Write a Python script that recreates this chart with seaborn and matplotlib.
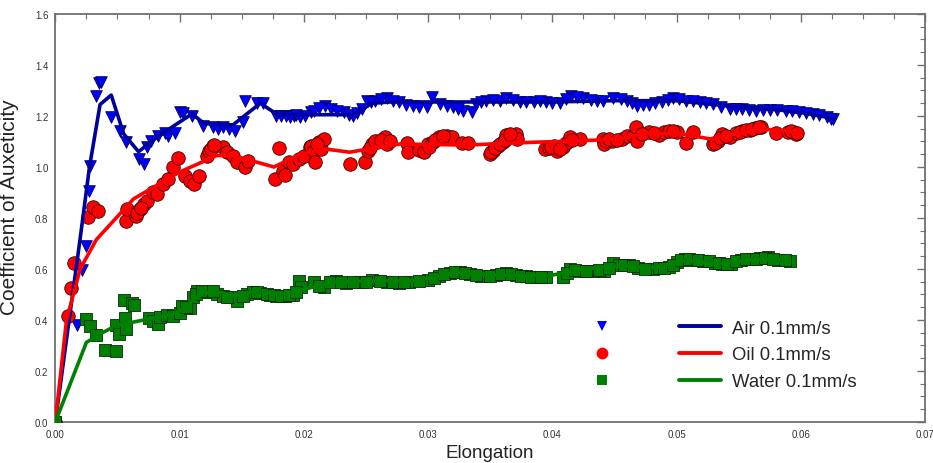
import matplotlib
matplotlib.use("Agg")
import matplotlib.pyplot as plt
from matplotlib.lines import Line2D
from matplotlib.ticker import MultipleLocator, FormatStrFormatter
import seaborn as sns

# ---- measured points ----
air_x = [0, 0.00177, 0.00212, 0.00247, 0.00274, 0.0028, 0.0033, 0.0035, 0.0037, 0.0045,
         0.0052, 0.0057, 0.0067, 0.0071, 0.0074, 0.0077, 0.0083, 0.0088, 0.0091, 0.0096,
         0.0100, 0.0103, 0.0110, 0.0119, 0.0127, 0.0131, 0.0135, 0.0140, 0.0145, 0.0151,
         0.0153, 0.0162, 0.0167, 0.0178, 0.0182, 0.0186, 0.0192, 0.0197, 0.0206, 0.0208,
         0.0217, 0.0222, 0.0232, 0.0240, 0.0247, 0.0251, 0.0257, 0.0267, 0.0277, 0.0288,
         0.0299, 0.0303, 0.0310, 0.0320, 0.0328, 0.0335, 0.0339, 0.0347, 0.0358, 0.0363,
         0.0374, 0.0385, 0.0395, 0.0406, 0.0415, 0.0425, 0.0436, 0.0441, 0.0449, 0.0460,
         0.0468, 0.0478, 0.0488, 0.0497, 0.0508, 0.0519, 0.0529, 0.0543, 0.0553, 0.0564,
         0.0575, 0.0588, 0.0599, 0.0610, 0.0621, 0.0626,
         0.0189, 0.0194, 0.0201, 0.0212, 0.0227, 0.0236, 0.0243, 0.0254, 0.0262, 0.0272,
         0.0282, 0.0293, 0.0315, 0.0324, 0.0343, 0.0352, 0.0368, 0.0379, 0.0390, 0.0400,
         0.0411, 0.0420, 0.0431, 0.0455, 0.0464, 0.0473, 0.0483, 0.0493, 0.0502, 0.0513,
         0.0524, 0.0536, 0.0548, 0.0558, 0.0570, 0.0581, 0.0593, 0.0604, 0.0615, 0.0624]
air_y = [0, 0.38, 0.597, 0.689, 0.907, 1.005, 1.28, 1.33, 1.335, 1.195,
         1.142, 1.097, 1.031, 1.012, 1.077, 1.10, 1.12, 1.135, 1.123, 1.135,
         1.214, 1.21, 1.20, 1.16, 1.155, 1.15, 1.155, 1.15, 1.14, 1.175,
         1.26, 1.25, 1.25, 1.20, 1.20, 1.20, 1.20, 1.195, 1.215, 1.221,
         1.240, 1.227, 1.214, 1.201, 1.227, 1.26, 1.26, 1.269, 1.254, 1.240,
         1.234, 1.273, 1.247, 1.234, 1.221, 1.214, 1.247, 1.26, 1.26, 1.269,
         1.256, 1.256, 1.254, 1.251, 1.28, 1.269, 1.26, 1.26, 1.269, 1.26,
         1.240, 1.243, 1.256, 1.269, 1.26, 1.254, 1.247, 1.227, 1.227, 1.221,
         1.225, 1.221, 1.214, 1.208, 1.195, 1.188,
         1.195, 1.205, 1.20, 1.23, 1.22, 1.205, 1.21, 1.255, 1.265, 1.26,
         1.245, 1.236, 1.24, 1.228, 1.255, 1.262, 1.262, 1.255, 1.258, 1.25,
         1.265, 1.275, 1.262, 1.265, 1.25, 1.242, 1.25, 1.262, 1.265, 1.258,
         1.25, 1.235, 1.228, 1.224, 1.223, 1.223, 1.218, 1.21, 1.202, 1.19]

oil_x = [0, 0.00105, 0.00124, 0.0015, 0.0026, 0.0030, 0.0034, 0.0057, 0.0058, 0.0065,
         0.0068, 0.0071, 0.0074, 0.0079, 0.0082, 0.0087, 0.0091, 0.0095, 0.0099, 0.0104,
         0.0108, 0.0112, 0.0116, 0.0122, 0.0124, 0.0127, 0.0135, 0.0138, 0.0143, 0.0146,
         0.0153, 0.0155, 0.0177, 0.0180, 0.0183, 0.0185, 0.0188, 0.0191, 0.0196, 0.0200,
         0.0205, 0.0206, 0.0208, 0.0209, 0.0212, 0.0214, 0.0216, 0.0237, 0.0249, 0.0252,
         0.0255, 0.0259, 0.0265, 0.0267, 0.0283, 0.0284, 0.0293, 0.0297, 0.0300, 0.0304,
         0.0309, 0.0315, 0.0319, 0.0327, 0.0332, 0.0350, 0.0352, 0.0356, 0.0360, 0.0363,
         0.0371, 0.0372, 0.0394, 0.0401, 0.0404, 0.0409, 0.0411, 0.0414, 0.0422, 0.0441,
         0.0442, 0.0448, 0.0456, 0.0460, 0.0465, 0.0467, 0.0468, 0.0478, 0.0486, 0.0490,
         0.0494, 0.0500, 0.0508, 0.0513, 0.0529, 0.0533, 0.0537, 0.0543, 0.0548, 0.0553,
         0.0559, 0.0563, 0.0568, 0.0580, 0.0590, 0.0594, 0.0596,
         0.0066, 0.0069, 0.0125, 0.0128, 0.0211, 0.0253, 0.0257, 0.0262, 0.0269, 0.0301,
         0.0306, 0.0312, 0.0351, 0.0354, 0.0358, 0.0362, 0.0366, 0.0397, 0.0399, 0.0406,
         0.0416, 0.0443, 0.0446, 0.0452, 0.0472, 0.0482, 0.0497, 0.0531, 0.0535, 0.0540,
         0.0551, 0.0556, 0.0561, 0.0566, 0.0592, 0.0597]
oil_y = [0, 0.414, 0.524, 0.622, 0.803, 0.842, 0.829, 0.789, 0.835, 0.809,
         0.835, 0.855, 0.868, 0.90, 0.894, 0.933, 0.953, 0.999, 1.034, 0.966,
         0.946, 0.933, 0.966, 1.044, 1.064, 1.084, 1.077, 1.058, 1.044, 1.018,
         0.999, 1.025, 0.953, 1.073, 0.986, 0.97, 1.018, 1.012, 1.031, 1.044,
         1.077, 1.084, 1.064, 1.018, 1.097, 1.07, 1.11, 1.012, 1.021, 1.064,
         1.09, 1.097, 1.116, 1.09, 1.094, 1.06, 1.068, 1.058, 1.09, 1.099,
         1.116, 1.123, 1.116, 1.093, 1.093, 1.051, 1.064, 1.084, 1.097, 1.125,
         1.129, 1.11, 1.07, 1.084, 1.064, 1.077, 1.094, 1.116, 1.11, 1.11,
         1.09, 1.103, 1.11, 1.12, 1.123, 1.156, 1.103, 1.139, 1.125, 1.136,
         1.143, 1.136, 1.094, 1.139, 1.09, 1.103, 1.129, 1.116, 1.133, 1.143,
         1.146, 1.152, 1.156, 1.133, 1.136, 1.139, 1.129,
         0.82, 0.84, 1.07, 1.085, 1.09, 1.075, 1.10, 1.105, 1.10, 1.08,
         1.105, 1.12, 1.058, 1.075, 1.09, 1.105, 1.128, 1.075, 1.08, 1.07,
         1.105, 1.10, 1.11, 1.105, 1.128, 1.132, 1.14, 1.095, 1.115, 1.12,
         1.137, 1.145, 1.15, 1.155, 1.14, 1.135]

water_x = [0, 0.0025, 0.0028, 0.0033, 0.0040, 0.0049, 0.0049, 0.0051, 0.0055, 0.0056,
           0.0057, 0.0062, 0.0063, 0.0075, 0.0079, 0.0083, 0.0084, 0.0090, 0.0095, 0.0100,
           0.0102, 0.0108, 0.0111, 0.0114, 0.0124, 0.0130, 0.0135, 0.0141, 0.0146, 0.0154,
           0.0159, 0.0165, 0.0173, 0.0178, 0.0185, 0.0191, 0.0196, 0.0198, 0.0208, 0.0216,
           0.0226, 0.0234, 0.0245, 0.0255, 0.0267, 0.0277, 0.0285, 0.0300, 0.0309, 0.0318,
           0.0326, 0.0334, 0.0343, 0.0355, 0.0363, 0.0371, 0.0379, 0.0387, 0.0395, 0.0409,
           0.0414, 0.0422, 0.0433, 0.0442, 0.0449, 0.0454, 0.0462, 0.0469, 0.0481, 0.0486,
           0.0494, 0.0500, 0.0507, 0.0513, 0.0521, 0.0531, 0.0537, 0.0544, 0.0552, 0.0560,
           0.0567, 0.0574, 0.0582, 0.0591,
           0.0105, 0.0113, 0.0118, 0.0127, 0.0138, 0.0151, 0.0162, 0.0170, 0.0176, 0.0182,
           0.0188, 0.0194, 0.0212, 0.0221, 0.0230, 0.0240, 0.0250, 0.0261, 0.0272, 0.0281,
           0.0293, 0.0305, 0.0313, 0.0322, 0.0330, 0.0339, 0.0350, 0.0359, 0.0367, 0.0375,
           0.0383, 0.0391, 0.0412, 0.0418, 0.0427, 0.0438, 0.0446, 0.0458, 0.0465, 0.0475,
           0.0490, 0.0497, 0.0504, 0.0510, 0.0517, 0.0526, 0.0534, 0.0541, 0.0548, 0.0556,
           0.0564, 0.0571, 0.0578, 0.0587]
water_y = [0, 0.404, 0.378, 0.341, 0.284, 0.28, 0.38, 0.345, 0.478, 0.407,
           0.365, 0.467, 0.46, 0.407, 0.397, 0.384, 0.41, 0.42, 0.417, 0.427,
           0.453, 0.446, 0.489, 0.515, 0.509, 0.502, 0.495, 0.489, 0.476, 0.502,
           0.511, 0.506, 0.498, 0.495, 0.493, 0.498, 0.553, 0.528, 0.548, 0.528,
           0.554, 0.545, 0.548, 0.557, 0.55, 0.545, 0.548, 0.557, 0.574, 0.584,
           0.59, 0.58, 0.571, 0.576, 0.584, 0.576, 0.571, 0.567, 0.567, 0.567,
           0.60, 0.593, 0.593, 0.593, 0.622, 0.616, 0.614, 0.603, 0.60, 0.603,
           0.607, 0.629, 0.639, 0.637, 0.633, 0.624, 0.62, 0.62, 0.637, 0.639,
           0.642, 0.646, 0.637, 0.633,
           0.45, 0.50, 0.515, 0.512, 0.49, 0.495, 0.51, 0.50, 0.497, 0.495,
           0.497, 0.51, 0.535, 0.55, 0.55, 0.548, 0.55, 0.553, 0.548, 0.548,
           0.552, 0.565, 0.58, 0.587, 0.585, 0.575, 0.574, 0.58, 0.58, 0.574,
           0.57, 0.567, 0.585, 0.597, 0.593, 0.595, 0.605, 0.615, 0.61, 0.60,
           0.605, 0.615, 0.635, 0.638, 0.635, 0.63, 0.622, 0.62, 0.63, 0.638,
           0.64, 0.645, 0.64, 0.635]

# ---- smoothed trend curves ----
air_fit_x = [0, 0.0010, 0.0020, 0.00275, 0.0036, 0.0045, 0.0055, 0.0067, 0.0080, 0.0095,
             0.0110, 0.0120, 0.0143, 0.0165, 0.0178, 0.0200, 0.0240, 0.0255, 0.0270, 0.0300,
             0.0350, 0.0400, 0.0450, 0.0500, 0.0550, 0.0580, 0.0605, 0.0626]
air_fit_y = [0, 0.36, 0.72, 1.0, 1.245, 1.282, 1.13, 1.06, 1.11, 1.16,
             1.208, 1.17, 1.165, 1.25, 1.208, 1.205, 1.205, 1.25, 1.255, 1.255,
             1.255, 1.255, 1.26, 1.26, 1.235, 1.225, 1.21, 1.19]

oil_fit_x = [0, 0.0009, 0.0020, 0.0033, 0.0063, 0.0100, 0.0130, 0.0143, 0.0176, 0.0197,
             0.0218, 0.0237, 0.0251, 0.0277, 0.0331, 0.0385, 0.0425, 0.0454, 0.0478, 0.0505,
             0.0527, 0.0567, 0.0588, 0.0598]
oil_fit_y = [0, 0.40, 0.60, 0.715, 0.875, 0.98, 1.045, 1.045, 1.0, 1.05,
             1.07, 1.058, 1.07, 1.09, 1.086, 1.097, 1.103, 1.11, 1.133, 1.129,
             1.11, 1.149, 1.142, 1.14]

water_fit_x = [0, 0.0025, 0.0036, 0.0049, 0.0068, 0.0084, 0.0100, 0.0116, 0.0127, 0.0143,
               0.0162, 0.0184, 0.0200, 0.0224, 0.0264, 0.0291, 0.0323, 0.0358, 0.0398, 0.0425,
               0.0454, 0.0480, 0.0505, 0.0535, 0.0565, 0.0591]
water_fit_y = [0, 0.312, 0.345, 0.378, 0.397, 0.41, 0.436, 0.495, 0.515, 0.495,
               0.515, 0.502, 0.52, 0.549, 0.554, 0.554, 0.587, 0.574, 0.574, 0.60,
               0.613, 0.605, 0.632, 0.622, 0.64, 0.635]

labels = ["Air 0.1mm/s", "Oil 0.1mm/s", "Water 0.1mm/s"]
marker_colors = ["#0000ff", "#ff0000", "#008000"]
edge_colors = ["#000050", "#400000", "#0a2a0a"]
line_colors = ["#00009c", "#ff0000", "#008000"]
markers = ["v", "o", "s"]
marker_sizes = [70, 95, 70]

points = [(air_x, air_y), (oil_x, oil_y), (water_x, water_y)]
fits = [(air_fit_x, air_fit_y), (oil_fit_x, oil_fit_y), (water_fit_x, water_fit_y)]

sns.set_style("white")
plt.rcParams["font.family"] = ["Liberation Sans", "DejaVu Sans"]

fig = plt.figure(figsize=(9.33, 4.64), dpi=100)
ax = fig.add_axes([0.0593, 0.0884, 0.9321, 0.8793])

for (px, py), (fx, fy), mk, mc, ec, lc, ms in zip(points, fits, markers, marker_colors,
                                                  edge_colors, line_colors, marker_sizes):
    sns.scatterplot(x=px, y=py, ax=ax, marker=mk, color=mc, s=ms, edgecolor=ec,
                    linewidth=0.6, zorder=3, legend=False)
    sns.lineplot(x=fx, y=fy, ax=ax, color=lc, lw=2.6, sort=False, estimator=None,
                 zorder=4, legend=False)

ax.set_xlim(0, 0.07)
ax.set_ylim(0, 1.6)
ax.xaxis.set_major_locator(MultipleLocator(0.01))
ax.xaxis.set_minor_locator(MultipleLocator(0.0025))
ax.yaxis.set_major_locator(MultipleLocator(0.2))
ax.yaxis.set_minor_locator(MultipleLocator(0.05))
ax.xaxis.set_major_formatter(FormatStrFormatter("%.2f"))
ax.yaxis.set_major_formatter(FormatStrFormatter("%.1f"))

frame_col = "#707070"
for sp in ax.spines.values():
    sp.set_visible(True)
    sp.set_color(frame_col)
    sp.set_linewidth(1.3)
ax.tick_params(which="both", direction="in", top=True, right=True, colors=frame_col,
               labelcolor="#333333", labelsize=7)
ax.tick_params(which="major", length=6, width=1.0, pad=5)
ax.tick_params(which="minor", length=3.5, width=0.8)

ax.set_xlabel("Elongation", fontsize=13.5, color="#222222", labelpad=4)
ax.set_ylabel("Coefficient of Auxeticity", fontsize=15, color="#222222", labelpad=4)
ax.yaxis.set_label_coords(-0.042, 0.53)

# legend: marker column, then line column carrying the text
mk_handles = [Line2D([], [], linestyle="none", marker=m, color=c,
                     markersize=8.5 if m == "o" else 7.5, markeredgewidth=0)
              for m, c in zip(markers, marker_colors)]
ln_handles = [Line2D([], [], color=c, lw=2.8) for c in line_colors]
ax.legend(mk_handles + ln_handles, ["", "", ""] + labels, ncol=2, frameon=False,
          loc="upper left", bbox_to_anchor=(0.585, 0.291), fontsize=13.3,
          handlelength=2.3, handletextpad=0.6, columnspacing=2.4, labelspacing=0.52,
          borderpad=0.4)

fig.savefig("out.png", dpi=100)
